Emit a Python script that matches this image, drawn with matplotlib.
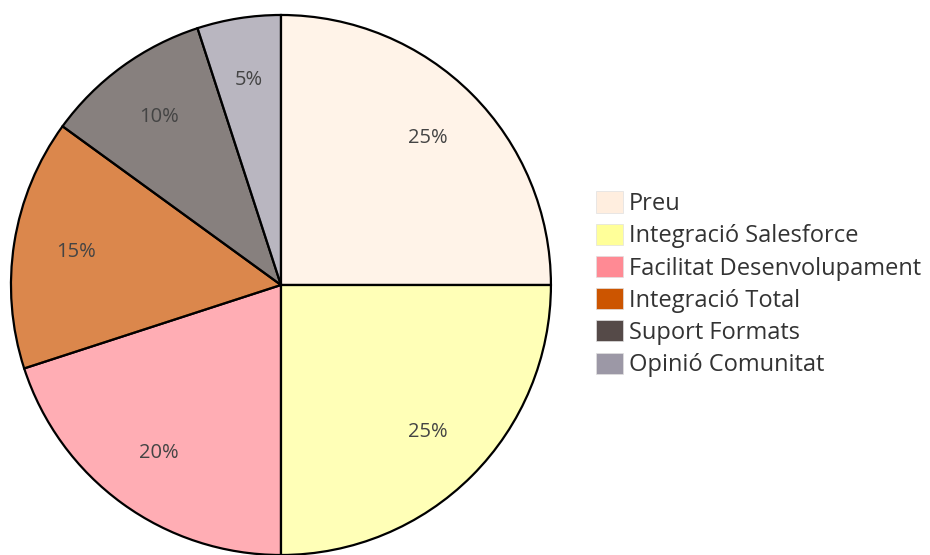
import matplotlib.pyplot as plt
from matplotlib.colors import to_rgba
from matplotlib.patches import Patch

labels = ['Preu', 'Integració Salesforce', 'Facilitat Desenvolupament',
          'Integració Total', 'Suport Formats', 'Opinió Comunitat']
values = [25, 25, 20, 15, 10, 5]
colors = ['#ffeedf', '#ffff99', '#ff8a94', '#cc5500', '#554a48', '#9c98a6']

plt.rcParams['font.family'] = ['Open Sans', 'DejaVu Sans']

fig = plt.figure(figsize=(9.3, 5.55), dpi=100)
ax = fig.add_axes([0.0118, 0.0, 0.5806, 0.973])

# slices are drawn semi-transparent, edges stay solid black
faded = [to_rgba(c, 0.7) for c in colors]
wedges, texts, autotexts = ax.pie(
    values, colors=faded, startangle=90, counterclock=False,
    autopct='%1.0f%%', pctdistance=0.77, radius=1,
    wedgeprops=dict(edgecolor='black', linewidth=1.6),
    textprops=dict(fontsize=14.5, color='#444444'))
ax.set_xlim(-1, 1)
ax.set_ylim(-1, 1)
ax.set_aspect('auto')
ax.axis('off')

handles = [Patch(facecolor=c, edgecolor='#e0e0e0', linewidth=0.5) for c in colors]
fig.legend(handles, labels, loc='upper left', bbox_to_anchor=(0.641, 0.655),
           frameon=False, fontsize=17, handlelength=1.15, handleheight=1.0,
           labelspacing=0.32, handletextpad=0.25, borderaxespad=0,
           borderpad=0, labelcolor='#333333')

fig.savefig('out.png', dpi=100)
